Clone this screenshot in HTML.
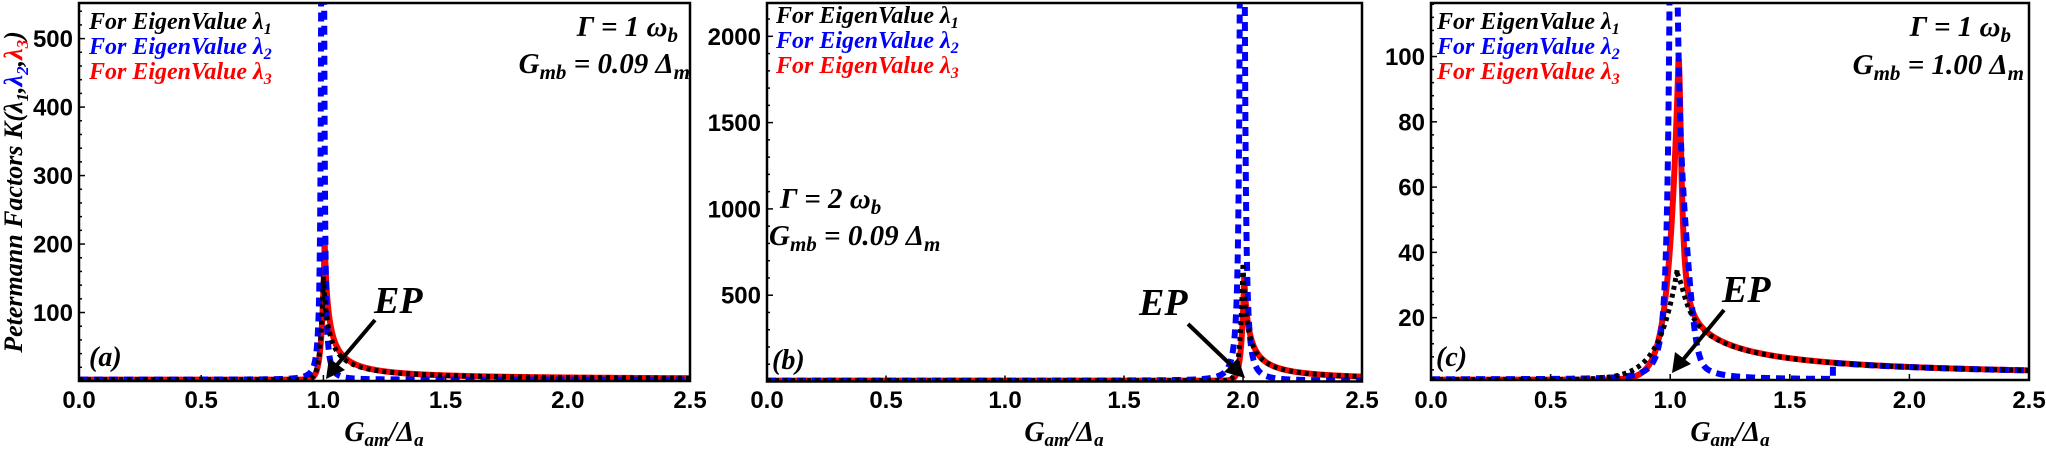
<!DOCTYPE html>
<html><head><meta charset="utf-8">
<style>
html,body{margin:0;padding:0;background:#fff;}
svg{display:block;}
.tk{font-family:"Liberation Sans",sans-serif;font-weight:bold;font-size:24px;fill:#000;}
.it{font-family:"Liberation Serif","DejaVu Serif",serif;font-weight:bold;font-style:italic;}
</style></head>
<body>
<svg id="s" width="2046" height="451" xmlns="http://www.w3.org/2000/svg">
<g id="curves"></g>
<g id="frames"></g>
<!-- y-axis label -->
<text class="it" font-size="26" transform="translate(22,192) rotate(-90)" text-anchor="middle">Petermann Factors K(<tspan>λ<tspan font-size="17" dy="6">1</tspan></tspan><tspan dy="-6">,</tspan><tspan fill="#0000ff">λ<tspan font-size="17" dy="6">2</tspan></tspan><tspan dy="-6">,</tspan><tspan fill="#ff0000">λ<tspan font-size="17" dy="6">3</tspan></tspan><tspan dy="-6">)</tspan></text>

<!-- legends -->
<g class="it" font-size="24">
<text x="89" y="29">For EigenValue λ<tspan font-size="16" dy="5">1</tspan></text>
<text x="89" y="54" fill="#0000ff">For EigenValue λ<tspan font-size="16" dy="5">2</tspan></text>
<text x="89" y="79" fill="#ff0000">For EigenValue λ<tspan font-size="16" dy="5">3</tspan></text>
<text x="776" y="23">For EigenValue λ<tspan font-size="16" dy="5">1</tspan></text>
<text x="776" y="48" fill="#0000ff">For EigenValue λ<tspan font-size="16" dy="5">2</tspan></text>
<text x="776" y="73" fill="#ff0000">For EigenValue λ<tspan font-size="16" dy="5">3</tspan></text>
<text x="1437" y="29">For EigenValue λ<tspan font-size="16" dy="5">1</tspan></text>
<text x="1437" y="54" fill="#0000ff">For EigenValue λ<tspan font-size="16" dy="5">2</tspan></text>
<text x="1437" y="79" fill="#ff0000">For EigenValue λ<tspan font-size="16" dy="5">3</tspan></text>
</g>
<!-- params -->
<g class="it" font-size="29">
<text x="678" y="36" text-anchor="end">Γ = 1 ω<tspan font-size="21" dy="6">b</tspan></text>
<text x="690" y="73" text-anchor="end">G<tspan font-size="21" dy="6">mb</tspan><tspan dy="-6"> = 0.09 Δ</tspan><tspan font-size="21" dy="6">m</tspan></text>
<text x="780" y="208">Γ = 2 ω<tspan font-size="21" dy="6">b</tspan></text>
<text x="769" y="245">G<tspan font-size="21" dy="6">mb</tspan><tspan dy="-6"> = 0.09 Δ</tspan><tspan font-size="21" dy="6">m</tspan></text>
<text x="2011" y="36" text-anchor="end">Γ = 1 ω<tspan font-size="21" dy="6">b</tspan></text>
<text x="2024" y="74" text-anchor="end">G<tspan font-size="21" dy="6">mb</tspan><tspan dy="-6"> = 1.00 Δ</tspan><tspan font-size="21" dy="6">m</tspan></text>
</g>
<!-- panel labels -->
<g class="it" font-size="28">
<text x="89" y="366">(a)</text>
<text x="772" y="369">(b)</text>
<text x="1436" y="366">(c)</text>
</g>
<!-- EP -->
<g class="it" font-size="38">
<text x="374" y="313">EP</text>
<text x="1139" y="315">EP</text>
<text x="1722" y="302">EP</text>
</g>
<g stroke="#000" stroke-width="4" fill="#000">
<line x1="375" y1="320" x2="336" y2="366"/>
<polygon points="326,379 329,358 345,370" stroke="none"/>
<line x1="1188" y1="324" x2="1233" y2="367"/>
<polygon points="1245,378 1224,372 1238,358" stroke="none"/>
<line x1="1724" y1="310" x2="1682" y2="361"/>
<polygon points="1672,373 1675,352 1691,364" stroke="none"/>
</g>
<!-- x labels -->
<g class="it" font-size="28">
<text x="384" y="441" text-anchor="middle">G<tspan font-size="19" dy="5">am</tspan><tspan dy="-5">/Δ</tspan><tspan font-size="19" dy="5">a</tspan></text>
<text x="1064" y="441" text-anchor="middle">G<tspan font-size="19" dy="5">am</tspan><tspan dy="-5">/Δ</tspan><tspan font-size="19" dy="5">a</tspan></text>
<text x="1730" y="441" text-anchor="middle">G<tspan font-size="19" dy="5">am</tspan><tspan dy="-5">/Δ</tspan><tspan font-size="19" dy="5">a</tspan></text>
</g>
<g id="ticks"></g>
</svg>
<script>
var NS="http://www.w3.org/2000/svg";
var panels=[
 {x0:79,x1:690,yt:3,yb:381,ymin:0,ymax:552,yt_major:[100,200,300,400,500],ytminor:20,
  blue:function(x){return 2+3000/(1+Math.pow((x-0.997)/0.003,2));},
  red:function(x){return x<1.005?2+200*Math.exp(-(1.005-x)/0.012):2+3.16/(x-1.005+0.0155);},
  black:function(x){return x<1.0?2+150*Math.exp(-(1.0-x)/0.012):2+3.16/(x-1+0.021);} },
 {x0:767,x1:1362,yt:3,yb:381.5,ymin:0,ymax:2193,yt_major:[500,1000,1500,2000],ytminor:100,
  blue:function(x){return 5+30000/(1+Math.pow((x-1.997)/0.003,2));},
  red:function(x){return x<2.005?5+600*Math.exp(-(2.005-x)/0.012):5+12/(x-2.005+0.02);},
  black:function(x){return x<2.0?5+680*Math.exp(-(2.0-x)/0.012):5+12/(x-2+0.0176);} },
 {x0:1431,x1:2029,yt:3,yb:380,ymin:0.9,ymax:116.4,yt_major:[20,40,60,80,100],ytminor:4,
  blue:function(x){ if(x>1.68) return 1.5+3.85/(x-1.03+0.176);
     var w=x<1.01?0.012:0.016; return 1.1+250/(1+Math.pow((x-1.01)/w,2))+ (x>1.0&&x<1.2?30*Math.exp(-Math.pow((x-1.05)/0.045,2)):0);},
  red:function(x){return x<1.035?1+99*Math.exp(-(1.035-x)/0.04):1.5+3.85/(x-1.035+0.176)+76/(1+Math.pow((x-1.035)/0.014,2));},
  black:function(x){return x<1.03?1+34*Math.exp(-(1.03-x)/0.076):1.5+3.85/(x-1.03+0.176)+10/(1+Math.pow((x-1.03)/0.04,2));} }
];
var cg=document.getElementById('curves'),fg=document.getElementById('frames'),tg=document.getElementById('ticks');
function el(p,tag,a){var e=document.createElementNS(NS,tag);for(var k in a)e.setAttribute(k,a[k]);p.appendChild(e);return e;}
panels.forEach(function(P,i){
 var X=function(x){return P.x0+(P.x1-P.x0)*x/2.5;};
 var Y=function(y){return P.yb-(P.yb-P.yt)*(y-P.ymin)/(P.ymax-P.ymin);};
 var clip=el(cg,'clipPath',{id:'c'+i});el(clip,'rect',{x:P.x0,y:P.yt,width:P.x1-P.x0,height:P.yb-P.yt});
 var g=el(cg,'g',{'clip-path':'url(#c'+i+')'});
 function path(f){var d='';var n=5000;for(var k=0;k<=n;k++){var x=2.5*k/n;var y=f(x);var py=Math.max(-50,Math.min(P.yb+20,Y(y)));d+=(k?'L':'M')+X(x).toFixed(2)+' '+py.toFixed(2);}return d;}
 el(g,'path',{d:path(P.red),fill:'none',stroke:'#ff0000','stroke-width':6});
 el(g,'path',{d:path(P.blue),fill:'none',stroke:'#0000ff','stroke-width':6,'stroke-dasharray':'9 6'});
 el(g,'path',{d:path(P.black),fill:'none',stroke:'#000','stroke-width':5,'stroke-dasharray':'4 4'});
 el(fg,'rect',{x:P.x0,y:P.yt,width:P.x1-P.x0,height:P.yb-P.yt,fill:'none',stroke:'#000','stroke-width':2.5});
 for(var v=Math.ceil(P.ymin/P.ytminor)*P.ytminor;v<=P.ymax;v+=P.ytminor){
   var yy=Y(v);if(yy<P.yt+1||yy>P.yb-1)continue;
   var maj=P.yt_major.indexOf(Math.round(v))>=0;
   el(tg,'line',{x1:P.x0,x2:P.x0+(maj?6:3),y1:yy,y2:yy,stroke:'#000','stroke-width':1.5});
   if(maj){var t=el(tg,'text',{x:P.x0-6,y:yy+8.5,'text-anchor':'end','class':'tk'});t.textContent=Math.round(v);}
 }
 for(var k=0;k<=5;k++){var xx=X(k*0.5);
   var t=el(tg,'text',{x:xx,y:408,'text-anchor':'middle','class':'tk'});t.textContent=(k*0.5).toFixed(1);
   el(tg,'line',{x1:xx,x2:xx,y1:P.yb,y2:P.yb-6,stroke:'#000','stroke-width':1.5});}
});
</script>
</body></html>
